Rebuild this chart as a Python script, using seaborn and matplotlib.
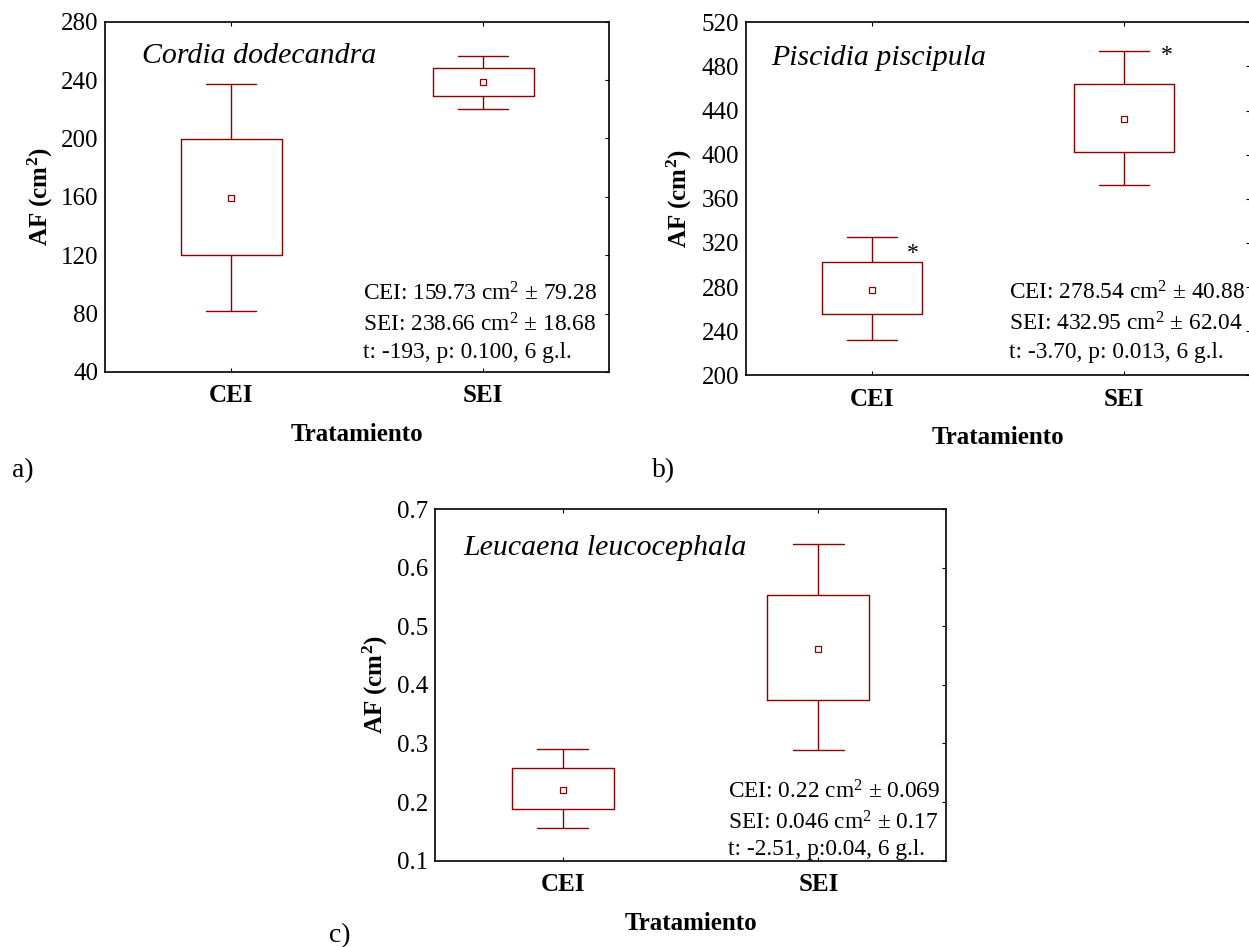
import pandas as pd
import numpy as np
import matplotlib
matplotlib.use("Agg")
import matplotlib.pyplot as plt
import seaborn as sns

# values: whisker low, box low, mean, box high, whisker high
groups = ["CEI", "SEI"]
cordia_cei = [82.0, 120.2, 159.4, 199.4, 237.1]
cordia_sei = [220.4, 229.3, 238.5, 248.1, 256.7]
piscidia_cei = [232.3, 255.3, 277.6, 302.4, 325.4]
piscidia_sei = [372.5, 402.4, 432.1, 464.4, 494.0]
leucaena_cei = [0.155, 0.188, 0.220, 0.258, 0.291]
leucaena_sei = [0.289, 0.374, 0.462, 0.553, 0.640]

cordia_txt = ["CEI: 159.73 cm$^2$ ± 79.28", "SEI: 238.66 cm$^2$ ± 18.68", "t: -193, p: 0.100, 6 g.l."]
piscidia_txt = ["CEI: 278.54 cm$^2$ ± 40.88", "SEI: 432.95 cm$^2$ ± 62.04", "t: -3.70, p: 0.013, 6 g.l."]
leucaena_txt = ["CEI: 0.22 cm$^2$ ± 0.069", "SEI: 0.046 cm$^2$ ± 0.17", "t: -2.51, p:0.04, 6 g.l."]

cordia_ticks = [40, 80, 120, 160, 200, 240, 280]
piscidia_ticks = [200, 240, 280, 320, 360, 400, 440, 480, 520]
leucaena_ticks = [0.1, 0.2, 0.3, 0.4, 0.5, 0.6, 0.7]

# asterisks next to the whisker caps in panel b (x in category units, y value)
piscidia_star_x = [0.16, 1.17]
piscidia_star_y = [310, 490]

RED = "#8b0000"

sns.set_style("white")
plt.rcParams['font.family'] = ['Liberation Serif', 'DejaVu Serif']
plt.rcParams['mathtext.default'] = 'regular'
plt.rcParams['text.color'] = 'black'
plt.rcParams['axes.labelcolor'] = 'black'
plt.rcParams['xtick.color'] = 'black'
plt.rcParams['ytick.color'] = 'black'


def long_form(cei, sei):
    return pd.DataFrame({"Tratamiento": ["CEI"] * len(cei) + ["SEI"] * len(sei),
                         "AF": cei + sei})


def draw_panel(ax, cei, sei, ticks, ticklabels, species, title_xy, notes, note_x, note_ys,
               ylab_x, xlab_y):
    df = long_form(cei, sei)
    sns.boxplot(data=df, x="Tratamiento", y="AF", order=groups, ax=ax,
                fill=False, color=RED, width=0.4, linewidth=1.0,
                whis=(0, 100), showfliers=False,
                medianprops={"visible": False})
    means = pd.DataFrame({"Tratamiento": groups, "AF": [cei[2], sei[2]]})
    sns.pointplot(data=means, x="Tratamiento", y="AF", order=groups, ax=ax,
                  errorbar=None, color=RED, marker="s", linestyle="none",
                  markersize=4.3, markerfacecolor="white", markeredgecolor=RED,
                  markeredgewidth=0.9, zorder=4)
    ax.set_ylim(ticks[0], ticks[-1])
    ax.set_yticks(ticks)
    ax.set_yticklabels(ticklabels, fontsize=18)
    ax.set_xlim(-0.5, 1.5)
    ax.set_xticks([0, 1])
    ax.set_xticklabels(groups, fontsize=18, fontweight="bold")
    ax.tick_params(axis="y", left=False, right=True, direction="in", length=3, pad=5)
    ax.tick_params(axis="x", top=True, bottom=True, direction="in", length=3, pad=9)
    for sp in ax.spines.values():
        sp.set_visible(True)
        sp.set_color("black")
        sp.set_linewidth(1.2)
    ax.set_ylabel("AF (cm$^2$)", fontsize=18, fontweight="bold")
    ax.set_xlabel("Tratamiento", fontsize=18, fontweight="bold")
    ax.yaxis.set_label_coords(ylab_x, 0.5)
    ax.xaxis.set_label_coords(0.5, xlab_y)
    ax.text(title_xy[0], title_xy[1], species, transform=ax.transAxes,
            fontsize=21.5, style="italic", va="baseline", ha="left")
    for line, y in zip(notes, note_ys):
        ax.text(note_x, y, line, transform=ax.transAxes, fontsize=16.8,
                va="baseline", ha="left")


fig = plt.figure(figsize=(12.49, 9.47), dpi=100)
ax_a = fig.add_axes([0.0843, 0.6072, 0.4035, 0.3699])
ax_b = fig.add_axes([0.5973, 0.6037, 0.4035, 0.3728])
ax_c = fig.add_axes([0.3485, 0.0911, 0.4089, 0.3714])

draw_panel(ax_a, cordia_cei, cordia_sei, cordia_ticks, [str(t) for t in cordia_ticks],
           "Cordia dodecandra", (0.073, 0.883), cordia_txt, 0.512, [0.203, 0.115, 0.039],
           -0.10, -0.146)
draw_panel(ax_b, piscidia_cei, piscidia_sei, piscidia_ticks, [str(t) for t in piscidia_ticks],
           "Piscidia piscipula", (0.049, 0.879), piscidia_txt, 0.522, [0.216, 0.1255, 0.05],
           -0.103, -0.144)
draw_panel(ax_c, leucaena_cei, leucaena_sei, leucaena_ticks, ["%.1f" % t for t in leucaena_ticks],
           "Leucaena leucocephala", (0.055, 0.869), leucaena_txt, 0.574, [0.177, 0.089, 0.016],
           -0.088, -0.146)

for x, y in zip(piscidia_star_x, piscidia_star_y):
    ax_b.text(x, y, "*", fontsize=17, ha="center", va="center")

fig.text(12 / 1249, 1 - 477 / 947, "a)", fontsize=20, va="baseline")
fig.text(652 / 1249, 1 - 477 / 947, "b)", fontsize=20, va="baseline")
fig.text(329 / 1249, 1 - 942 / 947, "c)", fontsize=20, va="baseline")

fig.savefig("out.png", dpi=100)
